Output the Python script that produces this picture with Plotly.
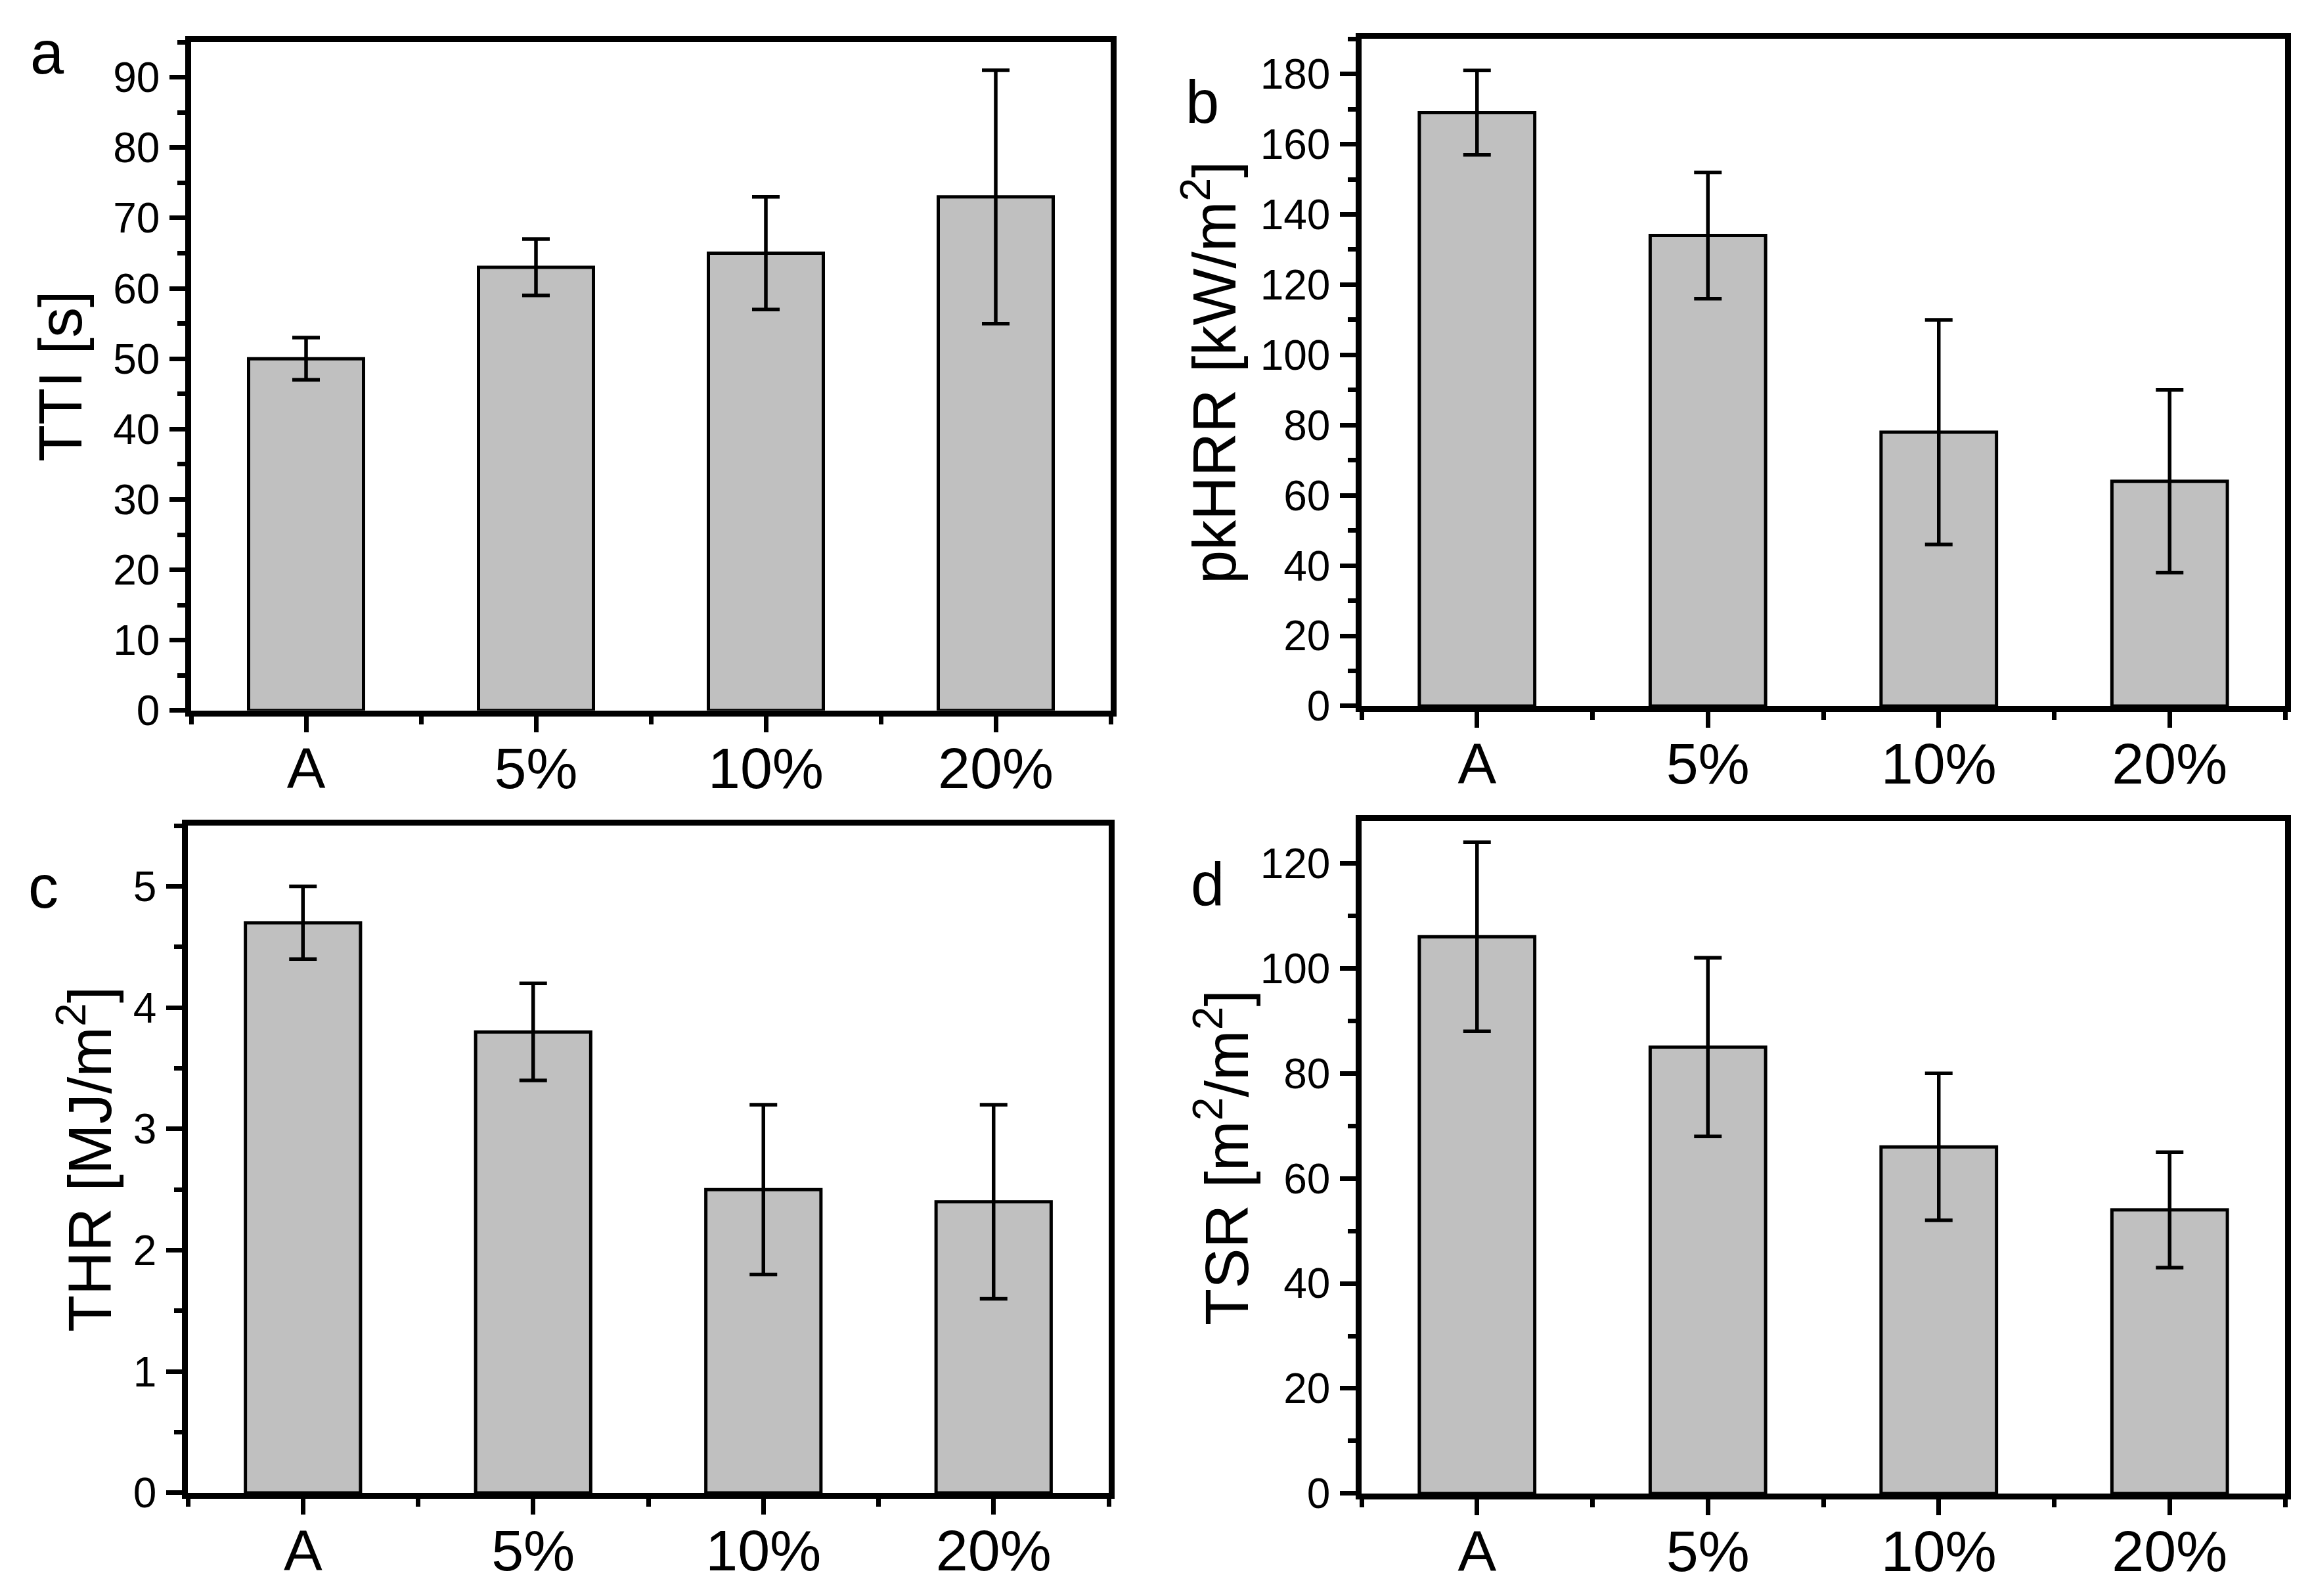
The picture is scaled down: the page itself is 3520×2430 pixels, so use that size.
import numpy as np
import plotly.graph_objects as go

# ---------------- data ----------------
categories = ["A", "5%", "10%", "20%"]

tti_values = [50, 63, 65, 73]
tti_errors = [3, 4, 8, 18]

pkhrr_values = [169, 134, 78, 64]
pkhrr_errors = [12, 18, 32, 26]

thr_values = [4.7, 3.8, 2.5, 2.4]
thr_errors = [0.3, 0.4, 0.7, 0.8]

tsr_values = [106, 85, 66, 54]
tsr_errors = [18, 17, 14, 11]

panel_letters = ["a", "b", "c", "d"]
y_titles = ["TTI [s]", "pkHRR [kW/m<sup>2</sup>]", "THR [MJ/m<sup>2</sup>]", "TSR [m<sup>2</sup>/m<sup>2</sup>]"]
y_ranges = [[0, 95], [0, 190], [0, 5.5], [0, 128]]
y_major = [10, 20, 1, 20]
y_minor = [5, 10, 0.5, 10]
letter_y = [93.5, 172, 5.0, 116]

# ---------------- layout geometry (pixels) ----------------
W, H = 3520, 2430
boxes = [  # left, right, top, bottom in px
    (283, 1683, 57, 1090),
    (2065, 3471, 52, 1083),
    (278, 1680, 1268, 2299),
    (2065, 3471, 1261, 2300),
]
title_x_px = [84, 1834, 122, 1853]
letter_x_px = [64, 1822, 58, 1830]

FONT = "Liberation Sans, Arial, sans-serif"
BAR_FILL = "#c0c0c0"

fig = go.Figure()
pos = np.arange(len(categories))

all_values = [tti_values, pkhrr_values, thr_values, tsr_values]
all_errors = [tti_errors, pkhrr_errors, thr_errors, tsr_errors]

annotations = []
for i in range(4):
    sfx = "" if i == 0 else str(i + 1)
    fig.add_trace(go.Bar(
        x=pos, y=all_values[i],
        width=0.5,
        marker=dict(color=BAR_FILL, line=dict(color="black", width=5)),
        error_y=dict(type="data", array=all_errors[i], visible=True,
                     color="black", thickness=5.5, width=21),
        xaxis="x" + sfx, yaxis="y" + sfx,
        showlegend=False,
    ))
    l, r, t, b = boxes[i]
    xdom = [l / W, r / W]
    ydom = [1 - b / H, 1 - t / H]
    fig.update_layout(**{
        "xaxis" + sfx: dict(
            domain=xdom, anchor="y" + sfx, range=[-0.5, len(categories) - 0.5],
            tickmode="array", tickvals=pos, ticktext=categories,
            ticks="outside", ticklen=24, tickwidth=7, tickcolor="black",
            showline=True, linewidth=8.5, linecolor="black", mirror=True,
            showgrid=False, zeroline=False,
            tickfont=dict(family=FONT, size=88, color="black"),
            ticklabelstandoff=-20,
            minor=dict(tick0=-0.5, dtick=1, ticks="outside", ticklen=12,
                       tickwidth=7, tickcolor="black", showgrid=False),
        ),
        "yaxis" + sfx: dict(
            domain=ydom, anchor="x" + sfx, range=y_ranges[i],
            tick0=0, dtick=y_major[i],
            ticks="outside", ticklen=24, tickwidth=7, tickcolor="black",
            showline=True, linewidth=8.5, linecolor="black", mirror=True,
            showgrid=False, zeroline=False,
            tickfont=dict(family=FONT, size=64, color="black"),
            ticklabelstandoff=2,
            minor=dict(tick0=0, dtick=y_minor[i], ticks="outside", ticklen=12,
                       tickwidth=7, tickcolor="black", showgrid=False),
        ),
    })
    annotations.append(dict(
        text=y_titles[i], textangle=-90,
        x=title_x_px[i] / W, y=(ydom[0] + ydom[1]) / 2,
        xref="paper", yref="paper", xanchor="center", yanchor="middle",
        showarrow=False, font=dict(family=FONT, size=92, color="black"),
    ))
    annotations.append(dict(
        text=panel_letters[i],
        x=letter_x_px[i] / W, y=letter_y[i],
        xref="paper", yref="y" + sfx, xanchor="center", yanchor="middle",
        showarrow=False, font=dict(family=FONT, size=92, color="black"),
    ))

fig.update_layout(
    width=W, height=H,
    margin=dict(l=0, r=0, t=0, b=0),
    paper_bgcolor="white", plot_bgcolor="white",
    annotations=annotations,
    bargap=0.5,
)

fig.write_html("out.html")
